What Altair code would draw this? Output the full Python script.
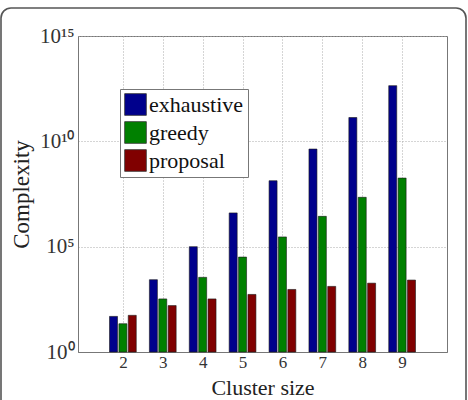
import altair as alt
import pandas as pd

# Cluster sizes and the complexity of each search strategy
cluster_sizes = [2, 3, 4, 5, 6, 7, 8, 9]
exhaustive = [49, 2.7e3, 1.0e5, 4.0e6, 1.35e8, 4.3e9, 1.35e11, 4.4e12]
greedy = [22, 3.3e2, 3.5e3, 3.2e4, 2.9e5, 2.75e6, 2.2e7, 1.8e8]
proposal = [55, 1.6e2, 3.3e2, 5.4e2, 9.3e2, 1.3e3, 1.85e3, 2.6e3]

methods = ["exhaustive", "greedy", "proposal"]
colors = ["#00008c", "#008000", "#800000"]

rows = []
for i, size in enumerate(cluster_sizes):
    for k, (name, series) in enumerate(zip(methods, [exhaustive, greedy, proposal])):
        rows.append({"size": size, "method": name, "order": k, "value": series[i]})
df = pd.DataFrame(rows)

FONT = "Liberation Serif"

label_expr = (
    "datum.value == 1 ? '10⁰' : datum.value == 1e5 ? '10⁵' : "
    "datum.value == 1e10 ? '10¹⁰' : '10¹⁵'"
)

bars = (
    alt.Chart(df)
    .transform_calculate(pos="datum.size + (datum.order - 1) * 0.235")
    .mark_bar(size=8, stroke="#1a1a1a", strokeWidth=0.6)
    .encode(
        x=alt.X(
            "pos:Q",
            scale=alt.Scale(domain=[1, 10], nice=False, zero=False),
            axis=alt.Axis(
                values=cluster_sizes,
                title="Cluster size",
                titleFontSize=22,
                titleFontWeight="normal",
                titleColor="#222",
                titleBaseline="alphabetic",
                titleY=42,
                labelFontSize=17,
                labelColor="#333",
                labelPadding=2,
                ticks=False,
                grid=True,
                gridDash=[1, 2],
                gridColor="#aaaaaa",
                domainColor="#777",
            ),
        ),
        y=alt.Y(
            "value:Q",
            stack=None,
            scale=alt.Scale(type="log", domain=[1, 1e15], nice=False),
            axis=alt.Axis(
                values=[1, 1e5, 1e10, 1e15],
                labelExpr=label_expr,
                title="Complexity",
                titleFontSize=23,
                titleFontWeight="normal",
                titleColor="#222",
                titlePadding=6,
                labelFontSize=21,
                labelColor="#333",
                labelPadding=4,
                ticks=False,
                grid=True,
                gridDash=[1, 2],
                gridColor="#aaaaaa",
                domainColor="#777",
            ),
        ),
        y2=alt.datum(1),
        color=alt.Color(
            "method:N",
            scale=alt.Scale(domain=methods, range=colors),
            legend=alt.Legend(
                title=None,
                orient="none",
                legendX=42,
                legendY=53,
                symbolType="square",
                symbolSize=470,
                symbolStrokeColor="#333",
                symbolStrokeWidth=0.8,
                labelFontSize=22,
                labelColor="#111",
                rowPadding=3,
                padding=4,
                strokeColor="#777",
                fillColor="white",
                labelOffset=2,
                labelLimit=200,
            ),
        ),
    )
)

# Rounded frame around the whole figure
frame = (
    alt.Chart(pd.DataFrame({"k": [0]}))
    .mark_rect(fill=None, stroke="#555", strokeWidth=1.6, cornerRadius=10)
    .encode(
        x=alt.value(-77),
        x2=alt.value(388),
        y=alt.value(-28),
        y2=alt.value(380),
    )
)

chart = (
    alt.layer(bars, frame)
    .properties(
        width=369,
        height=316,
        autosize=alt.AutoSizeParams(type="none"),
        padding={"left": 78, "top": 36, "right": 21, "bottom": 48},
        background="white",
    )
    .configure(font=FONT)
    .configure_axis(labelFont=FONT, titleFont=FONT)
    .configure_legend(labelFont=FONT)
    .configure_view(stroke="#777", strokeWidth=1)
)

chart.save("out.html", embed_options={"renderer": "svg", "actions": False})
